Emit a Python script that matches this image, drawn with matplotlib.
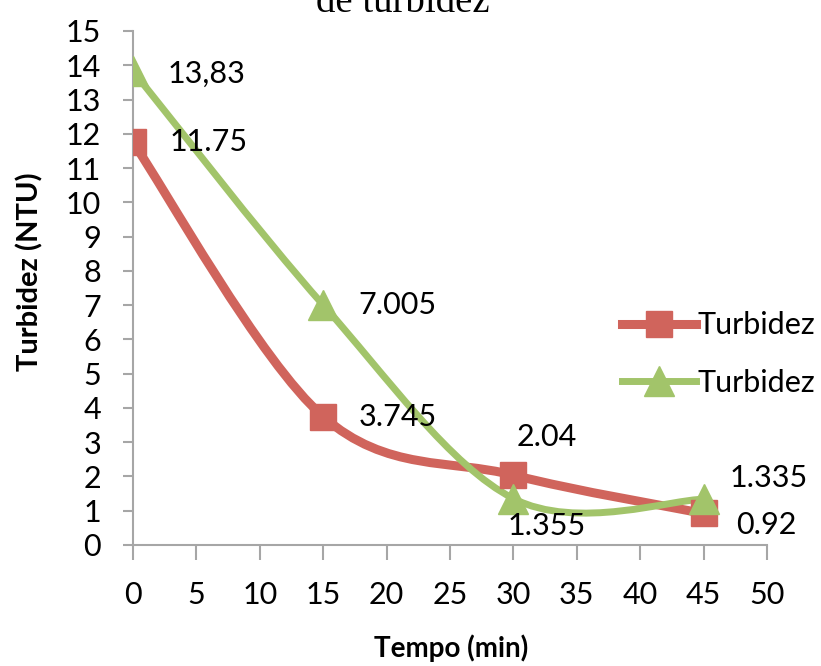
import numpy as np
import matplotlib
matplotlib.use("Agg")
import matplotlib.pyplot as plt
from matplotlib.path import Path
from matplotlib.patches import PathPatch
from matplotlib.lines import Line2D

# data
tempo = [0, 15, 30, 45]
turb_red = [11.75, 3.745, 2.04, 0.92]
turb_green = [13.83, 7.005, 1.355, 1.335]
labels_red = ["11.75", "3.745", "2.04", "0.92"]
labels_green = ["13,83", "7.005", "1.355", "1.335"]
series_names = ["Turbidez", "Turbidez"]
xticks = list(range(0, 55, 5))
yticks = list(range(0, 16))

# label offsets in pixels (left edge, vertical centre)
offs_red = [(37, 0), (35, 0), (3, 38), (33, -12)]
offs_green = [(35, -3), (35, 0), (-6, -27), (26, 21)]

RED = "#D0645C"
GREEN = "#A2C46A"
GREY = "#A6A6A6"

plt.rcParams['font.family'] = ['Lato', 'DejaVu Sans']


def smooth_path(xs, ys):
    # excel style smoothed line: cubic bezier, catmull-rom control points
    p = np.column_stack([xs, ys]).astype(float)
    n = len(p)
    verts = [p[0]]
    codes = [Path.MOVETO]
    for i in range(n - 1):
        p0 = p[max(i - 1, 0)]
        p1 = p[i]
        p2 = p[i + 1]
        p3 = p[min(i + 2, n - 1)]
        c1 = p1 + (p2 - p0) / 6.0
        c2 = p2 - (p3 - p1) / 6.0
        verts += [c1, c2, p2]
        codes += [Path.CURVE4] * 3
    return Path(verts, codes)


fig = plt.figure(figsize=(8.21, 6.66), dpi=100)
ax = fig.add_axes([133 / 821, 121 / 666, (767 - 133) / 821, (545 - 31) / 666])

for ys, col, lw in [(turb_red, RED, 6.5), (turb_green, GREEN, 5.0)]:
    ax.add_patch(PathPatch(smooth_path(tempo, ys), facecolor="none",
                           edgecolor=col, lw=lw, capstyle="round", zorder=2))

ax.plot(tempo, turb_red, ls="none", marker="s", ms=19, color=RED, zorder=3)
ax.plot(tempo, turb_green, ls="none", marker="^", ms=22, color=GREEN, zorder=3)

for xs, ys, labs, offs in [(tempo, turb_red, labels_red, offs_red),
                           (tempo, turb_green, labels_green, offs_green)]:
    for x, y, s, (dx, dy) in zip(xs, ys, labs, offs):
        ax.annotate(s, (x, y), xytext=(dx, dy), textcoords="offset pixels",
                    ha="left", va="center", fontsize=22, color="black",
                    annotation_clip=False, zorder=4)

ax.set_xlim(0, 50)
ax.set_ylim(0, 15)
ax.set_xticks(xticks)
ax.set_yticks(yticks)
ax.tick_params(axis="x", length=11, width=1.5, color=GREY, pad=15, labelsize=22)
ax.tick_params(axis="y", length=7, width=1.5, color=GREY, pad=16, labelsize=22)
for side in ["top", "right"]:
    ax.spines[side].set_visible(False)
for side in ["left", "bottom"]:
    ax.spines[side].set_color(GREY)
    ax.spines[side].set_linewidth(1.5)

fig.text(451 / 821, 1 - 648 / 666, "Tempo (min)", ha="center", va="center",
         fontsize=20, fontweight="bold")
fig.text(30 / 821, 1 - 272 / 666, "Turbidez (NTU)", ha="center", va="center",
         rotation=90, fontsize=21, fontweight="bold")
fig.text(403 / 821, 1 - 12 / 666, "de turbidez", ha="center", va="baseline",
         fontsize=28, family="Liberation Serif")

handles = [Line2D([], [], color=RED, lw=6.5, marker="s", ms=19),
           Line2D([], [], color=GREEN, lw=5, marker="^", ms=22)]
fig.legend(handles, series_names, loc="center left",
           bbox_to_anchor=(610 / 821, 1 - 354 / 666), frameon=False,
           fontsize=22, handlelength=2.4, handletextpad=0.05,
           labelspacing=0.95, borderaxespad=0)

fig.savefig("out.png", dpi=100)
